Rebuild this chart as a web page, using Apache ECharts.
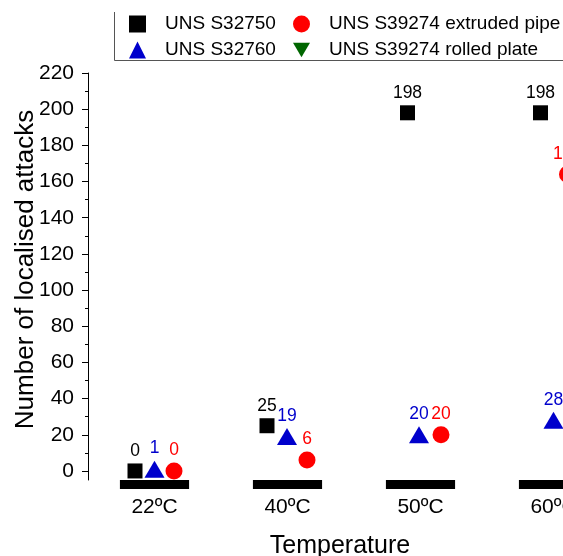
<!DOCTYPE html>
<html>
<head>
<meta charset="utf-8">
<script src="https://cdn.jsdelivr.net/npm/echarts@6/dist/echarts.min.js"></script>
<style>html,body{margin:0;padding:0;background:#fff}#c{width:563px;height:556px}</style>
</head>
<body>
<div id="c"></div>
<script>
// ---- data ----
const categories = ['22ºC', '40ºC', '50ºC', '60ºC'];
const s32750 = [0, 25, 198, 198];
const s32760 = [1, 19, 20, 28];
const s39274Extruded = [0, 6, 20, 164];
const s39274Rolled = [null, null, null, null];
const yMajorTicks = [0, 20, 40, 60, 80, 100, 120, 140, 160, 180, 200, 220];
const yMinorTicks = [10, 30, 50, 70, 90, 110, 130, 150, 170, 190, 210];
const seriesNames = ['UNS S32750', 'UNS S32760', 'UNS S39274 extruded pipe', 'UNS S39274 rolled plate'];

// ---- styling / layout ----
const FONT = '"Liberation Sans", Arial, sans-serif';
const colors = ['#000000', '#0000cc', '#ff0000', '#006600'];
const offsets = [
  [-19.5, -20.5, -13, -13],
  [0, -0.5, -1.5, 0],
  [19.5, 19.5, 20.5, 14],
  [40, 40, 40, 40]
];
const invTri = 'path://M0,0 L20,0 L10,17 Z';

function scatter(idx, values, symbol, size) {
  return {
    type: 'scatter',
    name: seriesNames[idx],
    symbol: symbol,
    symbolSize: size,
    itemStyle: { color: colors[idx], opacity: 1 },
    label: {
      show: true, position: 'top', distance: 3,
      color: colors[idx], fontFamily: FONT, fontSize: 17.5,
      formatter: p => p.value[1] != null ? p.value[1] : p.value
    },
    data: values.map((v, i) => ({ value: v, symbolOffset: [offsets[idx][i], 0] })),
    z: 5
  };
}

const chart = echarts.init(document.getElementById('c'), null, { renderer: 'canvas' });
chart.setOption({
  animation: false,
  backgroundColor: '#fff',
  textStyle: { fontFamily: FONT },
  grid: { left: 88, top: 73, bottom: 76, width: 532, containLabel: false, outerBoundsMode: 'none' },
  legend: [
    {
      data: [seriesNames[0], seriesNames[1]], orient: 'vertical',
      left: 124, top: 9, itemWidth: 17, itemHeight: 17, itemGap: 6,
      textStyle: { fontFamily: FONT, fontSize: 19, color: '#000', lineHeight: 20, padding: [0, 0, 0, 14] }
    },
    {
      data: [seriesNames[2], seriesNames[3]], orient: 'vertical',
      left: 288, top: 9, itemWidth: 17, itemHeight: 17, itemGap: 6,
      textStyle: { fontFamily: FONT, fontSize: 19, color: '#000', lineHeight: 20, padding: [0, 0, 0, 14] }
    }
  ],
  graphic: [{
    type: 'polyline', silent: true,
    shape: { points: [[114.5, 12], [114.5, 60.5], [563, 60.5]] },
    style: { stroke: '#555', lineWidth: 1, fill: null }
  }],
  xAxis: {
    type: 'category', data: categories, boundaryGap: true,
    axisLine: { show: false }, axisTick: { show: false }, splitLine: { show: false },
    axisLabel: { color: '#000', fontFamily: FONT, fontSize: 21, margin: 17 },
    name: 'Temperature', nameLocation: 'middle', nameGap: 54, nameMoveOverlap: false,
    nameTextStyle: { color: '#000', fontFamily: FONT, fontSize: 25, padding: [0, 28, 0, 0] }
  },
  yAxis: [
    {
      type: 'value', min: -5, max: 220,
      axisLine: { show: true, lineStyle: { color: '#000', width: 1 } },
      axisTick: { show: true, inside: false, length: 6, customValues: yMajorTicks, lineStyle: { color: '#000' } },
      axisLabel: { color: '#000', fontFamily: FONT, fontSize: 21, margin: 14, customValues: yMajorTicks },
      splitLine: { show: false },
      name: 'Number of localised attacks', nameLocation: 'middle', nameGap: 49, nameMoveOverlap: false,
      nameTextStyle: { color: '#000', fontFamily: FONT, fontSize: 26, padding: [0, 0, 0, 14] }
    },
    {
      type: 'value', min: -5, max: 220, position: 'left',
      axisLine: { show: false },
      axisTick: { show: true, inside: false, length: 3, customValues: yMinorTicks, lineStyle: { color: '#000' } },
      axisLabel: { show: false },
      splitLine: { show: false }
    }
  ],
  series: [
    {
      type: 'custom', name: 'axisbars', silent: true, z: 1,
      renderItem: function (params, api) {
        const p = api.coord([api.value(0), -5]);
        const w = api.size([1, 0])[0] * 0.52;
        return { type: 'rect', shape: { x: p[0] - w / 2, y: p[1], width: w, height: 9 }, style: { fill: '#000' } };
      },
      data: categories.map((c, i) => [i]),
      encode: { x: 0 }
    },
    scatter(0, s32750, 'rect', 15),
    scatter(1, s32760, 'triangle', [20, 17]),
    scatter(2, s39274Extruded, 'circle', 17),
    scatter(3, s39274Rolled, invTri, [20, 17])
  ]
});
</script>
</body>
</html>
